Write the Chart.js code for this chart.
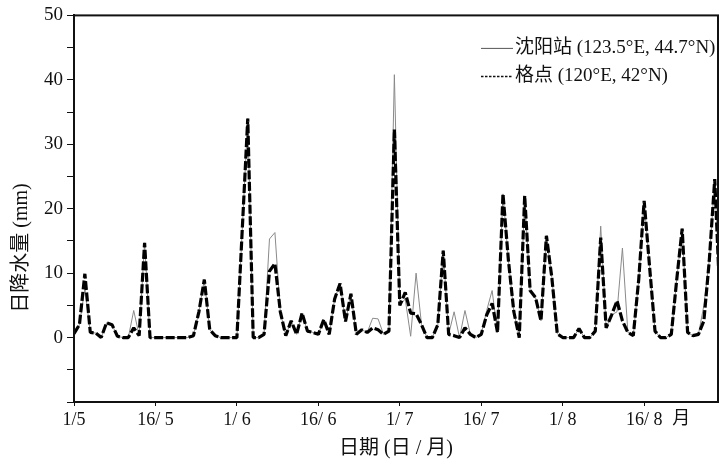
<!DOCTYPE html>
<html>
<head>
<meta charset="utf-8">
<script src="https://cdn.jsdelivr.net/npm/chart.js@4.4.1/dist/chart.umd.min.js"></script>
<style>
  body { margin: 0; background: #fff; }
  #wrap { width: 726px; height: 461px; }
</style>
</head>
<body>
<div id="wrap"><canvas id="myChart" width="726" height="461"></canvas></div>
<script>
// 日降水量 (mm), one value per day starting 1/5
const gridPoint = [
  0.6, 2.0, 9.9, 0.8, 0.7, 0, 2.3, 2.0, 0.2, 0,
  0, 1.5, 0.3, 14.7, 0, 0, 0, 0, 0, 0,
  0, 0, 0.3, 4, 9.0, 1.2, 0.3, 0, 0, 0,
  0, 17, 34, 0, 0, 0.5, 10.3, 11.5, 4, 0.3,
  2.6, 0.5, 3.8, 1, 0.8, 0.5, 2.8, 0.5, 6, 8.4,
  2.5, 6.8, 0.5, 1.2, 0.8, 1.5, 1.2, 0.5, 1, 32.3,
  5, 7, 3.8, 3.7, 2, 0, 0, 2, 13.5, 0.5,
  0.3, 0, 1.5, 0.5, 0, 0.5, 3.5, 5.3, 0.8, 22.3,
  12, 4, 0, 22, 7.3, 6.2, 2.6, 15.8, 9.3, 0.6,
  0, 0, 0, 1.4, 0, 0, 1, 15.5, 1.5, 3.5,
  5.7, 2.6, 0.8, 0.3, 9, 21.2, 11, 1, 0, 0,
  0.5, 9, 16.9, 0.8, 0.3, 0.5, 2.6, 12, 24.6, 5
]

const station = [
  0.6, 2.0, 7.6, 0.8, 0.7, 0, 2.3, 2.0, 0.2, 0,
  0, 4.2, 0.3, 14.7, 0, 0, 0, 0, 0, 0,
  0, 0, 0.3, 4, 9.0, 1.2, 0.3, 0, 0, 0,
  0, 17, 34, 0, 0, 0.5, 15.3, 16.3, 4, 0.3,
  2.6, 0.5, 3.8, 1, 0.8, 0.5, 2.8, 0.5, 6, 8.4,
  2.5, 6.8, 0.5, 1.2, 0.8, 3, 2.9, 0.5, 1, 40.8,
  5, 6, 0.2, 10, 2, 0, 0, 2, 13.5, 0.5,
  4, 0, 4.2, 0.5, 0, 0.5, 4.2, 7.3, 0.8, 22.3,
  12, 4, 0, 21.8, 7.3, 6.2, 2.6, 15.8, 9.3, 0.6,
  0, 0, 0, 1.4, 0, 0, 1, 17.3, 1.5, 3.5,
  4, 13.9, 0.8, 0.3, 9, 21.2, 11, 1, 0, 0,
  0.5, 9, 16.9, 0.8, 0.3, 0.5, 5, 12, 24.6, 5
]

const tickDays = [0, 15, 30, 45, 60, 75, 90, 105]
const tickLabels = ["1/5", "16/ 5", "1/ 6", "16/ 6", "1/ 7", "16/ 7", "1/ 8", "16/ 8"]

const legendStation = "沈阳站 (123.5°E, 44.7°N)"
const legendGrid = "格点 (120°E, 42°N)"
const yTitle = "日降水量 (mm)"

const serif = "'Liberation Serif', 'Times New Roman', 'Noto Sans CJK SC', serif"

// marco, leyenda, título del eje y y "月"
const extras = {
  id: "extras",
  afterDraw(chart) {
    const ctx = chart.ctx
    const a = chart.chartArea
    ctx.save()
    ctx.strokeStyle = "#111"
    ctx.lineWidth = 2
    ctx.strokeRect(a.left, a.top, a.right - a.left, a.bottom - a.top)

    // leyenda
    const lx = a.right - 237
    ctx.font = "19px " + serif
    ctx.fillStyle = "#111"
    ctx.textBaseline = "middle"
    ctx.lineWidth = 1
    ctx.strokeStyle = "#555"
    ctx.beginPath(); ctx.moveTo(lx, a.top + 33); ctx.lineTo(lx + 32, a.top + 33); ctx.stroke()
    ctx.fillText(legendStation, lx + 34, a.top + 33)
    ctx.strokeStyle = "#111"
    ctx.lineWidth = 1.5
    ctx.setLineDash([2.5, 1.5])
    ctx.beginPath(); ctx.moveTo(lx, a.top + 61); ctx.lineTo(lx + 32, a.top + 61); ctx.stroke()
    ctx.setLineDash([])
    ctx.fillText(legendGrid, lx + 34, a.top + 61)

    // unidad del eje x
    const xs = chart.scales.x
    ctx.font = "18px " + serif
    ctx.textAlign = "center"
    ctx.fillText("月", xs.getPixelForValue(tickDays[tickDays.length - 1]) + 37, a.bottom + 17)

    // título eje y
    ctx.font = "20px " + serif
    ctx.translate(22, 248)
    ctx.rotate(-Math.PI / 2)
    ctx.fillText(yTitle, 0, 0)
    ctx.restore()
  }
}

const config = {
  type: "line",
  data: {
    datasets: [
      {
        label: "格点",
        data: gridPoint.map((v, i) => ({ x: i, y: v })),
        borderColor: "#000",
        borderWidth: 3.2,
        borderDash: [9, 2.5],
        borderJoinStyle: "bevel",
        pointRadius: 0,
        tension: 0,
        order: 0
      },
      {
        label: "沈阳站",
        data: station.map((v, i) => ({ x: i, y: v })),
        borderColor: "#8a8a8a",
        borderWidth: 1,
        pointRadius: 0,
        tension: 0,
        order: 1
      }
    ]
  },
  options: {
    responsive: false,
    animation: false,
    layout: { padding: { top: 14, right: 8, left: 0, bottom: 0 } },
    plugins: { legend: { display: false }, tooltip: { enabled: false } },
    scales: {
      x: {
        type: "linear",
        min: 0,
        max: 118.6,
        afterBuildTicks: s => { s.ticks = tickDays.map(v => ({ value: v })) },
        afterFit: s => { s.height = 59 },
        ticks: {
          callback: (v, i) => tickLabels[i],
          font: { family: serif, size: 18 },
          color: "#111",
          padding: 3,
          maxRotation: 0,
          autoSkip: false
        },
        grid: { drawOnChartArea: false, tickLength: 4, color: "#111" },
        border: { color: "#111", width: 2 },
        title: {
          display: true,
          text: "日期 (日 / 月)",
          font: { family: serif, size: 20 },
          color: "#111",
          padding: { top: 7, bottom: 0 }
        }
      },
      y: {
        min: -10,
        max: 50,
        afterFit: s => { s.width = 74 },
        ticks: {
          stepSize: 5,
          callback: v => (v >= 0 && v % 10 === 0) ? v : "",
          font: { family: serif, size: 19 },
          color: "#111",
          padding: 4
        },
        grid: { drawOnChartArea: false, tickLength: 7, color: "#111" },
        border: { color: "#111", width: 2 },
        title: { display: false }
      }
    }
  },
  plugins: [extras]
}

new Chart(document.getElementById("myChart"), config)
</script>
</body>
</html>
